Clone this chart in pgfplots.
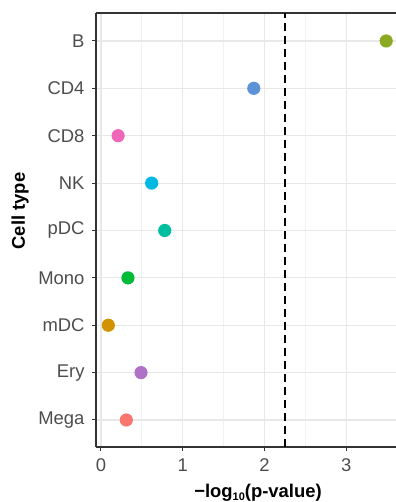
\documentclass[border=0pt]{standalone}
\usepackage{pgfplots}
\pgfplotsset{compat=1.18}
\usepackage{fontspec}
\setmainfont{Liberation Sans}

% ggplot-like hue palette, one colour per cell type
\definecolor{cMega}{HTML}{F8766D}
\definecolor{cEry}{HTML}{B072C9}
\definecolor{cmDC}{HTML}{D39200}
\definecolor{cMono}{HTML}{00BA38}
\definecolor{cpDC}{HTML}{00BFA0}
\definecolor{cNK}{HTML}{00B9E3}
\definecolor{cCDeight}{HTML}{F067B9}
\definecolor{cCDfour}{HTML}{5C93D6}
\definecolor{cB}{HTML}{8BAA22}
\definecolor{gridmaj}{HTML}{E8E8E8}
\definecolor{gridmin}{HTML}{F2F2F2}
\definecolor{ticktext}{HTML}{4D4D4D}
\definecolor{axisline}{HTML}{333333}

\begin{document}
\begin{tikzpicture}
\useasboundingbox (-96bp,-55bp) rectangle (300bp,447bp);
\begin{axis}[
  at={(0,0)}, anchor=south west,
  scale only axis,
  width=300bp, height=434bp,
  xmin=-0.061, xmax=3.61,
  ymin=0.43, ymax=9.59,
  axis x line=box, axis y line=left,
  axis line style={-, axisline, line width=1.1pt},
  xtick={0,1,2,3},
  minor x tick num=1,
  minor tick length=0pt,
  ytick={1,...,9},
  yticklabels={Mega,Ery,mDC,Mono,pDC,NK,CD8,CD4,B},
  xtick pos=left, ytick pos=left,
  tick align=outside,
  major tick length=4bp,
  tick style={axisline, line width=1pt},
  grid=both,
  major grid style={gridmaj, line width=1.1pt},
  minor grid style={gridmin, line width=0.8pt},
  ticklabel style={font=\fontsize{18.5}{20}\selectfont, text=ticktext},
  /pgf/number format/assume math mode=true,
  xticklabel style={yshift=-4bp},
  yticklabel style={xshift=-4bp},
  xlabel={\textbf{−log\raisebox{-0.35ex}{\fontsize{11}{12}\selectfont 10}(p-value)}},
  ylabel={\textbf{Cell type}},
  label style={font=\fontsize{18.5}{20}\selectfont},
  xlabel style={at={(axis description cs:0.54,-0.1152)}, anchor=base},
  ylabel style={at={(axis description cs:-0.253,0.544)}, anchor=center},
  clip=false,
  every axis plot/.append style={only marks, mark=*, mark size=6.6bp, mark options={draw opacity=0}},
]
% significance threshold
\draw[black, line width=2.3pt, dash pattern=on 8bp off 5bp]
  (axis cs:2.25,0.43) -- (axis cs:2.25,9.59);
% -log10(p-value) per cell type
\addplot[color=cMega]   coordinates {(0.31,1)};
\addplot[color=cEry]    coordinates {(0.49,2)};
\addplot[color=cmDC]    coordinates {(0.09,3)};
\addplot[color=cMono]   coordinates {(0.33,4)};
\addplot[color=cpDC]    coordinates {(0.78,5)};
\addplot[color=cNK]     coordinates {(0.62,6)};
\addplot[color=cCDeight] coordinates {(0.21,7)};
\addplot[color=cCDfour] coordinates {(1.87,8)};
\addplot[color=cB]      coordinates {(3.49,9)};
\end{axis}
\end{tikzpicture}
\end{document}
